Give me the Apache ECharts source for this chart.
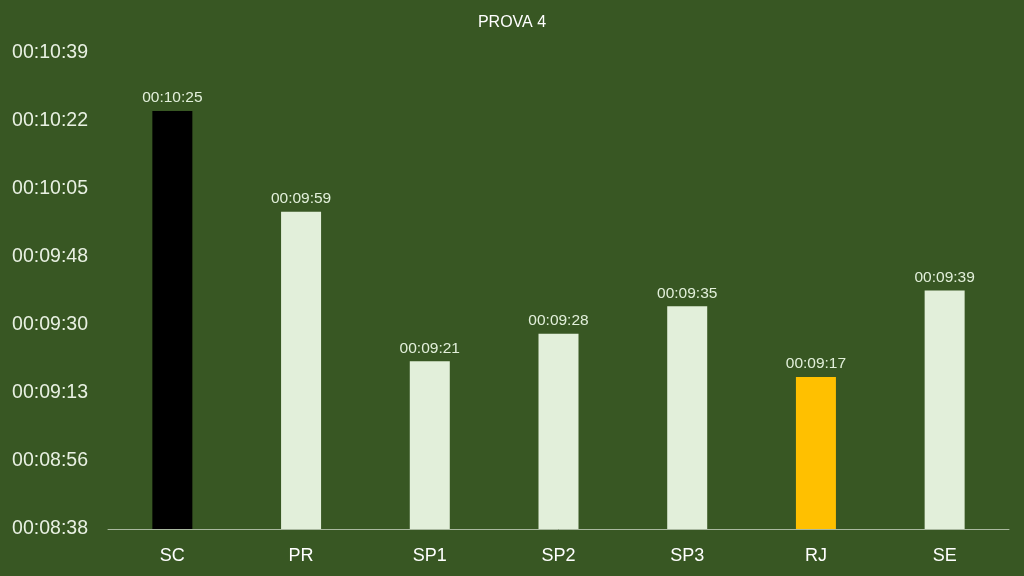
<!DOCTYPE html>
<html><head><meta charset="utf-8">
<script src="https://cdn.jsdelivr.net/npm/echarts@6/dist/echarts.min.js"></script>
<style>html,body{margin:0;padding:0;background:#385723}#c{width:1024px;height:576px}</style>
</head><body><div id="c"></div>
<script>
const categories = ['SC','PR','SP1','SP2','SP3','RJ','SE'];
const timesSec = [624.6, 599, 561, 568, 575, 557, 579];
const barColors = ['#000000','#e2efda','#e2efda','#e2efda','#e2efda','#ffc000','#e2efda'];
const axisMin = 518.4, axisMax = 639.36, axisStep = 17.28;

function fmt(v){
  const s = Math.round(v);
  const h = Math.floor(s/3600), m = Math.floor((s%3600)/60), sec = s%60;
  const p = n => String(n).padStart(2,'0');
  return p(h)+':'+p(m)+':'+p(sec);
}
const chart = echarts.init(document.getElementById('c'));
chart.setOption({
  backgroundColor:'#385723',
  animation:false,
  title:{text:'PROVA 4',left:'center',top:10,textStyle:{color:'#ffffff',fontSize:16,fontWeight:'normal',fontFamily:'Liberation Sans'}},
  grid:{left:108,right:15,top:53,bottom:47},
  xAxis:{type:'category',data:categories,
    axisLine:{lineStyle:{color:'#a9b89f',width:1}},axisTick:{show:false},
    axisLabel:{color:'#ffffff',fontSize:18,margin:18,fontFamily:'Liberation Sans'}},
  yAxis:{type:'value',min:axisMin,max:axisMax,interval:axisStep,
    splitLine:{show:false},axisLine:{show:false},axisTick:{show:false},
    axisLabel:{color:'#e8f0e2',fontSize:19.5,margin:20,fontFamily:'Liberation Sans',formatter:fmt}},
  series:[{type:'bar',barWidth:40,
    data:timesSec.map((v,i)=>({value:v,itemStyle:{color:barColors[i]}})),
    label:{show:true,position:'top',distance:5,color:'#e2efda',fontSize:15.5,fontFamily:'Liberation Sans',formatter:p=>fmt(p.value)}}]
});
</script></body></html>
